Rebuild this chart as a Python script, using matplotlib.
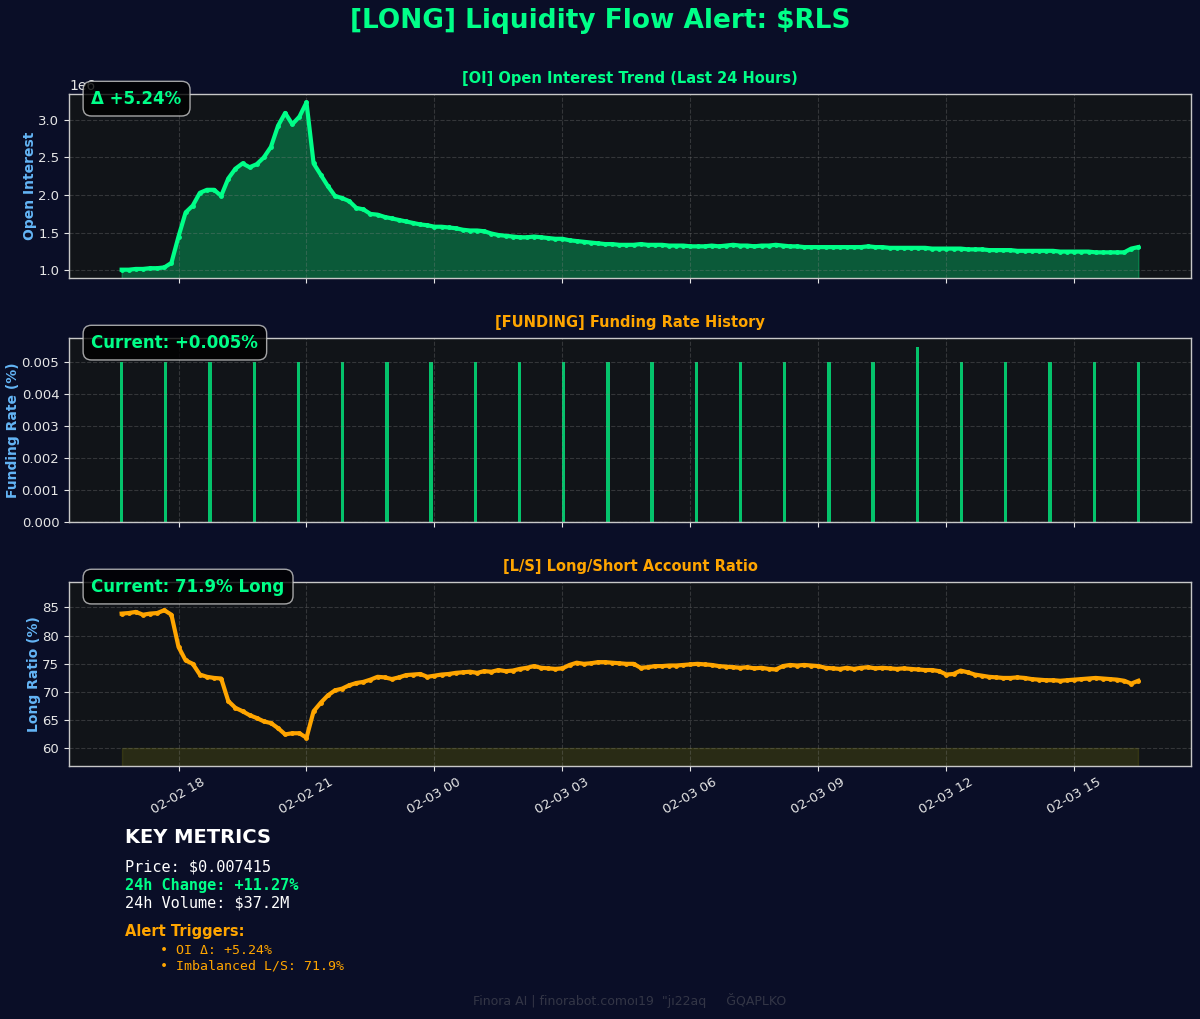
import numpy as np
import pandas as pd
import matplotlib
matplotlib.use('Agg')
import matplotlib.pyplot as plt
import matplotlib.dates as mdates
from matplotlib.ticker import MultipleLocator

# --- data (10 minute samples, last 24h) ---
start_time = '2025-02-02 16:40'
n_points = 144

oi_millions = [
    1.01, 1.01, 1.02, 1.02, 1.03, 1.03, 1.04, 1.10, 1.45, 1.77,
    1.86, 2.03, 2.07, 2.07, 1.99, 2.22, 2.35, 2.42, 2.37, 2.41,
    2.50, 2.64, 2.92, 3.09, 2.94, 3.04, 3.23, 2.42, 2.27, 2.12,
    1.99, 1.96, 1.92, 1.83, 1.81, 1.75, 1.74, 1.71, 1.69, 1.67,
    1.65, 1.63, 1.61, 1.60, 1.58, 1.58, 1.57, 1.56, 1.54, 1.53,
    1.53, 1.52, 1.49, 1.47, 1.46, 1.45, 1.44, 1.44, 1.45, 1.44,
    1.43, 1.42, 1.42, 1.40, 1.39, 1.38, 1.37, 1.36, 1.35, 1.35,
    1.34, 1.34, 1.34, 1.35, 1.34, 1.34, 1.34, 1.33, 1.33, 1.33,
    1.32, 1.32, 1.32, 1.33, 1.32, 1.33, 1.34, 1.33, 1.33, 1.32,
    1.33, 1.33, 1.34, 1.33, 1.32, 1.32, 1.31, 1.31, 1.31, 1.31,
    1.31, 1.31, 1.31, 1.31, 1.31, 1.32, 1.31, 1.31, 1.30, 1.30,
    1.30, 1.30, 1.30, 1.30, 1.29, 1.29, 1.29, 1.29, 1.29, 1.28,
    1.28, 1.28, 1.27, 1.27, 1.27, 1.27, 1.26, 1.26, 1.26, 1.26,
    1.26, 1.26, 1.25, 1.25, 1.25, 1.25, 1.25, 1.24, 1.24, 1.24,
    1.24, 1.24, 1.29, 1.31,
]

long_ratio = [
    83.9, 84.0, 84.2, 83.7, 83.9, 84.0, 84.5, 83.7, 78.0, 75.6,
    75.0, 73.1, 72.7, 72.5, 72.4, 68.4, 67.2, 66.6, 65.9, 65.4,
    64.8, 64.5, 63.6, 62.5, 62.7, 62.7, 61.9, 66.6, 68.1, 69.4,
    70.3, 70.6, 71.2, 71.6, 71.8, 72.2, 72.7, 72.6, 72.3, 72.6,
    73.0, 73.1, 73.2, 72.7, 72.9, 73.1, 73.2, 73.4, 73.5, 73.6,
    73.4, 73.7, 73.6, 73.9, 73.7, 73.8, 74.1, 74.3, 74.6, 74.3,
    74.2, 74.1, 74.2, 74.8, 75.2, 75.0, 75.1, 75.3, 75.3, 75.2,
    75.1, 75.0, 75.0, 74.3, 74.4, 74.6, 74.6, 74.7, 74.7, 74.8,
    74.9, 75.0, 74.9, 74.8, 74.6, 74.5, 74.4, 74.3, 74.4, 74.2,
    74.3, 74.1, 74.0, 74.6, 74.8, 74.7, 74.8, 74.7, 74.6, 74.3,
    74.2, 74.1, 74.3, 74.1, 74.3, 74.4, 74.2, 74.3, 74.2, 74.1,
    74.2, 74.1, 74.0, 73.9, 73.9, 73.7, 73.1, 73.2, 73.8, 73.5,
    73.1, 72.9, 72.7, 72.6, 72.5, 72.5, 72.6, 72.5, 72.3, 72.2,
    72.1, 72.1, 72.0, 72.1, 72.2, 72.3, 72.4, 72.5, 72.4, 72.3,
    72.2, 72.0, 71.5, 72.0,
]

funding_rates = [
    0.005, 0.005, 0.005, 0.005, 0.005, 0.005, 0.005, 0.005,
    0.005, 0.005, 0.005, 0.005, 0.005, 0.005, 0.005, 0.005,
    0.005, 0.005, 0.00547, 0.005, 0.005, 0.005, 0.005, 0.005,
]

symbol = 'RLS'
oi_change = 5.24
current_funding = 0.005
current_long = 71.9
price = 0.007415
change_24h = 11.27
volume_24h = '$37.2M'

# --- styling ---
BG = '#0a0e27'
PANEL = '#111418'
GREEN = '#00ff88'
ORANGE = '#ffa500'
LABEL = '#64b5f6'
TICK = '#e6e6e6'

times = pd.date_range(start_time, periods=n_points, freq='10min')
oi = np.array(oi_millions) * 1e6
ls = np.array(long_ratio)
funding_times = pd.date_range(times[0], times[-1], periods=len(funding_rates))

fig, axes = plt.subplots(3, 1, figsize=(12, 10.19), dpi=100, sharex=True)
fig.patch.set_facecolor(BG)
plt.subplots_adjust(left=0.0575, right=0.9925, top=0.9077, bottom=0.2483, hspace=0.326)

fig.suptitle(f'[LONG] Liquidity Flow Alert: ${symbol}', color=GREEN, fontsize=19,
             fontweight='bold', y=0.992, va='top')

for ax in axes:
    ax.set_facecolor(PANEL)
    ax.grid(True, linestyle='--', color='#888888', alpha=0.3, linewidth=0.8)
    for sp in ax.spines.values():
        sp.set_color('#c8c8c8')
        sp.set_linewidth(1.0)
    ax.tick_params(colors=TICK, labelsize=9.5)
    ax.yaxis.offsetText.set_color(TICK)

box = dict(boxstyle='round,pad=0.5', facecolor='black', edgecolor='#cccccc', alpha=0.8)

# open interest
ax1 = axes[0]
ax1.plot(times, oi, color=GREEN, linewidth=3, marker='o', markersize=2.5)
ax1.fill_between(times, oi, 0, color=GREEN, alpha=0.3)
rng = oi.max() - oi.min()
ax1.set_ylim(oi.min() - 0.05 * rng, oi.max() + 0.05 * rng)
ax1.set_title('[OI] Open Interest Trend (Last 24 Hours)', color=GREEN, fontsize=10.5,
              fontweight='bold', pad=8)
ax1.set_ylabel('Open Interest', color=LABEL, fontsize=10, fontweight='bold', labelpad=1)
ax1.text(0.02, 0.975, f'\u0394 +{oi_change:.2f}%', transform=ax1.transAxes, color=GREEN,
         fontsize=12, fontweight='bold', va='center', ha='left', bbox=box)

# funding
ax2 = axes[1]
ax2.bar(funding_times, funding_rates, width=0.0032, color=GREEN, alpha=0.75, linewidth=0)
ax2.axhline(0, color='white', linestyle='--', linewidth=0.8, alpha=0.5)
ax2.set_title('[FUNDING] Funding Rate History', color=ORANGE, fontsize=10.5,
              fontweight='bold', pad=8)
ax2.set_ylabel('Funding Rate (%)', color=LABEL, fontsize=10, fontweight='bold', labelpad=1)
ax2.text(0.02, 0.975, f'Current: +{current_funding:.3f}%', transform=ax2.transAxes,
         color=GREEN, fontsize=12, fontweight='bold', va='center', ha='left', bbox=box)

# long / short
ax3 = axes[2]
ax3.plot(times, ls, color=ORANGE, linewidth=3, marker='o', markersize=2.5)
ax3.fill_between(times, 0, 60, color='yellow', alpha=0.1)
ax3.set_ylim(ls.min() - 5, ls.max() + 5)
ax3.yaxis.set_major_locator(MultipleLocator(5))
ax3.set_title('[L/S] Long/Short Account Ratio', color=ORANGE, fontsize=10.5,
              fontweight='bold', pad=8)
ax3.set_ylabel('Long Ratio (%)', color=LABEL, fontsize=10, fontweight='bold', labelpad=1)
ax3.text(0.02, 0.975, f'Current: {current_long:.1f}% Long', transform=ax3.transAxes,
         color=GREEN, fontsize=12, fontweight='bold', va='center', ha='left', bbox=box)

ax3.xaxis.set_major_locator(mdates.HourLocator(byhour=range(0, 24, 3)))
ax3.xaxis.set_major_formatter(mdates.DateFormatter('%m-%d %H'))
plt.setp(ax3.get_xticklabels(), rotation=30)

# key metrics block
fig.text(0.104, 0.1786, 'KEY METRICS', color='white', fontsize=14, fontweight='bold', va='center')
fig.text(0.104, 0.1492, f'Price: ${price:.6f}', color='white', fontsize=11,
         family='DejaVu Sans Mono', va='center')
fig.text(0.104, 0.1315, f'24h Change: +{change_24h:.2f}%', color=GREEN, fontsize=11,
         family='DejaVu Sans Mono', fontweight='bold', va='center')
fig.text(0.104, 0.1138, f'24h Volume: {volume_24h}', color='white', fontsize=11,
         family='DejaVu Sans Mono', va='center')
fig.text(0.104, 0.0854, 'Alert Triggers:', color=ORANGE, fontsize=10.5, fontweight='bold', va='center')
fig.text(0.133, 0.0677, f'\u2022 OI \u0394: +{oi_change:.2f}%', color=ORANGE, fontsize=9.5,
         family='DejaVu Sans Mono', va='center')
fig.text(0.133, 0.0520, f'\u2022 Imbalanced L/S: {current_long:.1f}%', color=ORANGE, fontsize=9.5,
         family='DejaVu Sans Mono', va='center')

fig.text(0.525, 0.0177, 'Finora AI | finorabot.como\u013119  "j\u013122aq     \u011eQAPLKO',
         color='gray', alpha=0.35, fontsize=9, ha='center', va='center')

fig.savefig('out.png', facecolor=BG)
